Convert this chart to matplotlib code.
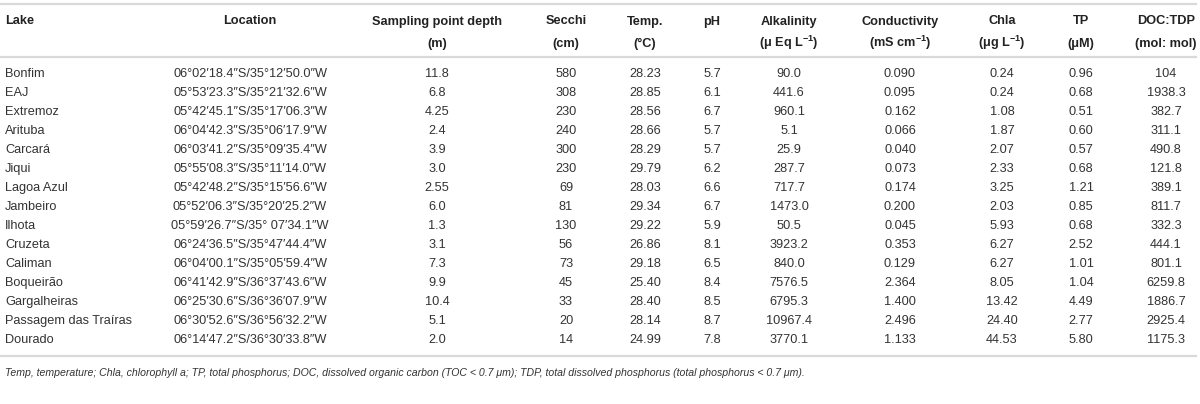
import matplotlib
matplotlib.use("Agg")
import matplotlib.pyplot as plt
from matplotlib.lines import Line2D

plt.rcParams['font.family'] = ['Liberation Sans', 'DejaVu Sans']
plt.rcParams['mathtext.fontset'] = 'custom'
plt.rcParams['mathtext.rm'] = 'Liberation Sans'
plt.rcParams['mathtext.it'] = 'Liberation Sans:italic'
plt.rcParams['mathtext.bf'] = 'Liberation Sans:bold'

# -- table data ---------------------------------------------------------------
lakes = ["Bonfim", "EAJ", "Extremoz", "Arituba", "Carcará", "Jiqui", "Lagoa Azul",
         "Jambeiro", "Ilhota", "Cruzeta", "Caliman", "Boqueirão", "Gargalheiras",
         "Passagem das Traíras", "Dourado"]
locations = ["06°02′18.4″S/35°12′50.0″W", "05°53′23.3″S/35°21′32.6″W",
             "05°42′45.1″S/35°17′06.3″W", "06°04′42.3″S/35°06′17.9″W",
             "06°03′41.2″S/35°09′35.4″W", "05°55′08.3″S/35°11′14.0″W",
             "05°42′48.2″S/35°15′56.6″W", "05°52′06.3″S/35°20′25.2″W",
             "05°59′26.7″S/35° 07′34.1″W", "06°24′36.5″S/35°47′44.4″W",
             "06°04′00.1″S/35°05′59.4″W", "06°41′42.9″S/36°37′43.6″W",
             "06°25′30.6″S/36°36′07.9″W", "06°30′52.6″S/36°56′32.2″W",
             "06°14′47.2″S/36°30′33.8″W"]
depth = ["11.8", "6.8", "4.25", "2.4", "3.9", "3.0", "2.55", "6.0", "1.3", "3.1",
         "7.3", "9.9", "10.4", "5.1", "2.0"]
secchi = ["580", "308", "230", "240", "300", "230", "69", "81", "130", "56", "73",
          "45", "33", "20", "14"]
temp = ["28.23", "28.85", "28.56", "28.66", "28.29", "29.79", "28.03", "29.34",
        "29.22", "26.86", "29.18", "25.40", "28.40", "28.14", "24.99"]
ph = ["5.7", "6.1", "6.7", "5.7", "5.7", "6.2", "6.6", "6.7", "5.9", "8.1", "6.5",
      "8.4", "8.5", "8.7", "7.8"]
alkalinity = ["90.0", "441.6", "960.1", "5.1", "25.9", "287.7", "717.7", "1473.0",
              "50.5", "3923.2", "840.0", "7576.5", "6795.3", "10967.4", "3770.1"]
conductivity = ["0.090", "0.095", "0.162", "0.066", "0.040", "0.073", "0.174",
                "0.200", "0.045", "0.353", "0.129", "2.364", "1.400", "2.496", "1.133"]
chla = ["0.24", "0.24", "1.08", "1.87", "2.07", "2.33", "3.25", "2.03", "5.93",
        "6.27", "6.27", "8.05", "13.42", "24.40", "44.53"]
tp = ["0.96", "0.68", "0.51", "0.60", "0.57", "0.68", "1.21", "0.85", "0.68",
      "2.52", "1.01", "1.04", "4.49", "2.77", "5.80"]
doc_tdp = ["104", "1938.3", "382.7", "311.1", "490.8", "121.8", "389.1", "811.7",
           "332.3", "444.1", "801.1", "6259.8", "1886.7", "2925.4", "1175.3"]

headers = [("Lake", ""), ("Location", ""), ("Sampling point depth", "(m)"),
           ("Secchi", "(cm)"), ("Temp.", "(°C)"), ("pH", ""),
           ("Alkalinity", r"(μ Eq L$^{\mathbf{-1}}$)"),
           ("Conductivity", r"(mS cm$^{\mathbf{-1}}$)"),
           ("Chla", r"(μg L$^{\mathbf{-1}}$)"), ("TP", "(μM)"),
           ("DOC:TDP", "(mol: mol)")]
columns = [lakes, locations, depth, secchi, temp, ph, alkalinity, conductivity,
           chla, tp, doc_tdp]
footnote = ("Temp, temperature; Chla, chlorophyll a; TP, total phosphorus; DOC, dissolved "
            "organic carbon (TOC < 0.7 μm); TDP, total dissolved phosphorus "
            "(total phosphorus < 0.7 μm).")

# -- layout (pixels, baselines) -----------------------------------------------
W, H = 1200, 404
col_x = [5, 250, 437, 566, 645, 712, 789, 900, 1002, 1081, 1166]
row_base0, row_dy = 77, 19.0
FS = 9.2

fig = plt.figure(figsize=(W / 100, H / 100), dpi=100, facecolor="white")


def fx(x):
    return x / W


def fy(y):
    return 1 - y / H


for yy in [4, 57, 356]:
    fig.add_artist(Line2D([fx(0), fx(1196)], [fy(yy), fy(yy)], color="#d9d9d9", lw=1.6))

for i, ((h1, h2), x) in enumerate(zip(headers, col_x)):
    ha = "left" if i == 0 else "center"
    fig.text(fx(x), fy(24.5), h1, ha=ha, va="baseline", fontsize=FS,
             fontweight="bold", color="#222222")
    if h2:
        fig.text(fx(x), fy(46.5), h2, ha=ha, va="baseline", fontsize=FS,
                 fontweight="bold", color="#222222")

for i, (col, x) in enumerate(zip(columns, col_x)):
    ha = "left" if i == 0 else "center"
    for r, val in enumerate(col):
        fig.text(fx(x), fy(row_base0 + r * row_dy), val, ha=ha, va="baseline",
                 fontsize=FS, color="#333333")

fig.text(fx(5), fy(376.5), footnote, ha="left", va="baseline", fontsize=7.6,
         style="italic", color="#333333")

fig.savefig("out.png", dpi=100, facecolor="white")
